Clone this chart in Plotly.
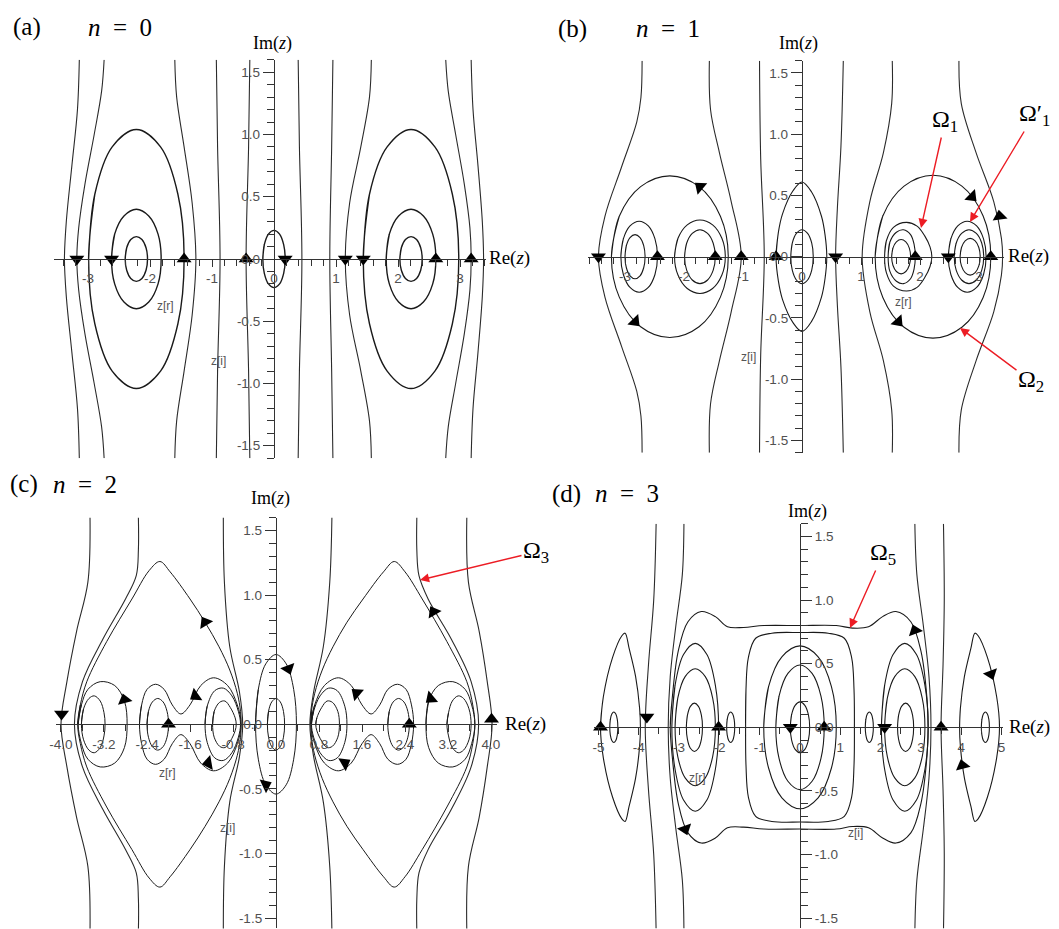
import plotly.graph_objects as go

W, H = 1059, 929

# ---------------- panel (a): n = 0 ----------------
# open trajectories: upper half, from the top edge down to the real axis
A_OPEN = [
    [(-3.14, 1.6), (-3.17, 1.2), (-3.26, 0.75), (-3.35, 0.3), (-3.38, 0)],
    [(-2.74, 1.6), (-2.78, 1.35), (-2.9, 1.0), (-3.05, 0.6), (-3.15, 0.25), (-3.18, 0)],
    [(-1.6, 1.6), (-1.57, 1.3), (-1.45, 0.9), (-1.32, 0.45), (-1.26, 0)],
    [(-0.93, 1.6), (-0.91, 0.9), (-0.87, 0)],
    [(-0.39, 1.6), (-0.41, 0.9), (-0.45, 0)],
    [(0.39, 1.6), (0.41, 0.9), (0.45, 0)],
    [(0.95, 1.6), (0.93, 0.9), (0.9, 0)],
    [(1.57, 1.6), (1.54, 1.3), (1.4, 0.9), (1.22, 0.45), (1.15, 0)],
    [(2.77, 1.6), (2.81, 1.35), (2.93, 1.0), (3.07, 0.6), (3.16, 0.25), (3.18, 0)],
    [(3.18, 1.6), (3.21, 1.2), (3.29, 0.75), (3.36, 0.3), (3.38, 0)],
]
# closed orbits: upper arc from the left crossing to the right crossing
A_LOOPS = [
    [(-2.99, 0), (-2.89, 0.52), (-2.61, 0.90), (-2.22, 1.04), (-1.83, 0.90), (-1.55, 0.52), (-1.45, 0)],
    [(-2.62, 0), (-2.57, 0.2), (-2.42, 0.346), (-2.22, 0.40), (-2.02, 0.346), (-1.87, 0.2), (-1.82, 0)],
    [(-2.40, 0), (-2.376, 0.09), (-2.31, 0.156), (-2.22, 0.18), (-2.13, 0.156), (-2.064, 0.09), (-2.04, 0)],
    [(-0.18, 0), (-0.156, 0.115), (-0.09, 0.2), (0, 0.23), (0.09, 0.2), (0.156, 0.115), (0.18, 0)],
    [(1.44, 0), (1.54, 0.52), (1.825, 0.90), (2.21, 1.04), (2.595, 0.90), (2.877, 0.52), (2.98, 0)],
    [(1.81, 0), (1.86, 0.2), (2.01, 0.346), (2.21, 0.40), (2.41, 0.346), (2.56, 0.2), (2.61, 0)],
    [(2.03, 0), (2.054, 0.09), (2.12, 0.156), (2.21, 0.18), (2.30, 0.156), (2.366, 0.09), (2.39, 0)],
]
A_UP = [(-1.45, 0), (-0.45, 0), (2.61, 0), (3.18, 0)]
A_DOWN = [(-3.18, 0), (-2.62, 0), (0.18, 0), (1.15, 0), (1.44, 0)]
A_HEADS = []

# ---------------- panel (b): n = 1 ----------------
B_OPEN = [
    [(-2.71, 1.6), (-2.73, 1.3), (-2.8, 1.1), (-3.06, 0.73), (-3.34, 0.33), (-3.45, 0)],
    [(-1.57, 1.6), (-1.55, 1.2), (-1.4, 0.85), (-1.2, 0.45), (-1.03, 0)],
    [(-0.72, 1.6), (-0.7, 0.8), (-0.64, 0)],
    [(0.7, 1.6), (0.66, 0.9), (0.6, 0.4), (0.57, 0)],
    [(1.53, 1.6), (1.52, 1.25), (1.38, 0.85), (1.15, 0.45), (1.02, 0)],
    [(2.66, 1.6), (2.7, 1.25), (2.95, 0.85), (3.25, 0.45), (3.38, 0.15), (3.4, 0)],
]
B_LOOPS = [
    [(-3.23, 0), (-3.097, 0.33), (-2.735, 0.572), (-2.24, 0.66), (-1.745, 0.572), (-1.383, 0.33), (-1.25, 0)],
    [(1.24, 0), (1.37, 0.333), (1.73, 0.576), (2.22, 0.665), (2.71, 0.576), (3.07, 0.333), (3.2, 0)],
    [(-3.07, 0), (-3.028, 0.145), (-2.915, 0.251), (-2.76, 0.29), (-2.605, 0.251), (-2.492, 0.145), (-2.45, 0)],
    [(-3.0, 0), (-2.977, 0.09), (-2.915, 0.156), (-2.83, 0.18), (-2.745, 0.156), (-2.683, 0.09), (-2.66, 0)],
    [(-2.16, 0), (-2.102, 0.15), (-1.945, 0.26), (-1.73, 0.30), (-1.515, 0.26), (-1.358, 0.15), (-1.30, 0)],
    [(-1.99, 0), (-1.955, 0.11), (-1.86, 0.19), (-1.73, 0.22), (-1.60, 0.19), (-1.505, 0.11), (-1.47, 0)],
    [(-0.44, 0), (-0.40, 0.2), (-0.33, 0.35), (-0.15, 0.54), (0, 0.61), (0.16, 0.53), (0.33, 0.33), (0.39, 0.18), (0.42, 0)],
    [(-0.19, 0), (-0.165, 0.11), (-0.095, 0.19), (0, 0.22), (0.095, 0.19), (0.165, 0.11), (0.19, 0)],
    [(1.40, 0), (1.43, 0.13), (1.55, 0.24), (1.77, 0.28), (1.95, 0.25), (2.08, 0.17), (2.17, 0.08), (2.2, 0)],
    [(1.46, 0), (1.49, 0.12), (1.6, 0.2), (1.72, 0.22), (1.84, 0.18), (1.9, 0.1), (1.92, 0)],
    [(1.52, 0), (1.541, 0.07), (1.6, 0.121), (1.68, 0.14), (1.76, 0.121), (1.819, 0.07), (1.84, 0)],
    [(2.48, 0), (2.523, 0.145), (2.64, 0.251), (2.8, 0.29), (2.96, 0.251), (3.077, 0.145), (3.12, 0)],
    [(2.58, 0), (2.613, 0.11), (2.705, 0.19), (2.83, 0.22), (2.955, 0.19), (3.047, 0.11), (3.08, 0)],
    [(2.68, 0), (2.703, 0.075), (2.765, 0.13), (2.85, 0.15), (2.935, 0.13), (2.997, 0.075), (3.02, 0)],
]
B_UP = [(-2.45, 0), (-1.47, 0), (-1.03, 0), (-0.44, 0), (1.92, 0), (3.2, 0)]
B_DOWN = [(-3.45, 0), (0.57, 0), (2.48, 0)]
# arrowheads along the orbits: (x, y, heading in degrees clockwise from up)
B_HEADS = [(3.35, 0.33, -8), (-1.73, 0.57, -50), (-2.83, -0.53, 136), (2.88, 0.49, 135), (1.63, -0.53, 137)]

# ---------------- panel (c): n = 2 ----------------
C_OPEN = [
    [(-3.46, 1.6), (-3.5, 1.1), (-3.71, 0.72), (-3.89, 0.33), (-4.0, 0)],
    [(-2.56, 1.6), (-2.56, 1.35), (-2.6, 1.15), (-2.8, 0.97), (-3.22, 0.66), (-3.6, 0.33), (-3.75, 0)],
    [(-0.98, 1.6), (-0.96, 1.1), (-0.86, 0.6), (-0.68, 0.25), (-0.62, 0)],
    [(1.04, 1.6), (1.0, 1.1), (0.88, 0.6), (0.7, 0.25), (0.63, 0)],
    [(2.62, 1.6), (2.62, 1.35), (2.66, 1.15), (2.83, 0.97), (3.26, 0.66), (3.63, 0.33), (3.77, 0)],
    [(3.55, 1.6), (3.58, 1.1), (3.78, 0.72), (3.93, 0.33), (4.02, 0)],
]
C_LOOPS = [
    [(-3.69, 0), (-3.64, 0.15), (-3.52, 0.33), (-3.15, 0.64), (-2.68, 0.97), (-2.36, 1.19), (-2.16, 1.26),
     (-1.97, 1.18), (-1.6, 0.97), (-1.32, 0.79), (-1.06, 0.6), (-0.86, 0.42), (-0.72, 0.24), (-0.66, 0.1), (-0.65, 0)],
    [(0.65, 0), (0.66, 0.1), (0.72, 0.24), (0.86, 0.42), (1.06, 0.6), (1.32, 0.79), (1.62, 0.97), (2.0, 1.18),
     (2.2, 1.26), (2.4, 1.18), (2.72, 0.97), (3.18, 0.64), (3.55, 0.33), (3.66, 0.15), (3.7, 0)],
    [(-3.68, 0), (-3.62, 0.15), (-3.5, 0.27), (-3.27, 0.33), (-3.0, 0.3), (-2.82, 0.18), (-2.77, 0)],
    [(-3.62, 0), (-3.58, 0.12), (-3.48, 0.2), (-3.38, 0.22), (-3.27, 0.18), (-3.2, 0.09), (-3.18, 0)],
    [(-2.54, 0), (-2.5, 0.15), (-2.4, 0.27), (-2.24, 0.31), (-2.08, 0.27), (-1.93, 0.15), (-1.77, 0.08),
     (-1.6, 0.15), (-1.4, 0.3), (-1.16, 0.36), (-0.9, 0.3), (-0.72, 0.15), (-0.65, 0)],
    [(-2.4, 0), (-2.373, 0.1), (-2.3, 0.173), (-2.2, 0.2), (-2.1, 0.173), (-2.027, 0.1), (-2.0, 0)],
    [(-1.32, 0), (-1.28, 0.14), (-1.14, 0.26), (-0.98, 0.28), (-0.82, 0.22), (-0.7, 0.1), (-0.66, 0)],
    [(-1.18, 0), (-1.15, 0.1), (-1.05, 0.17), (-0.95, 0.18), (-0.85, 0.13), (-0.76, 0.05), (-0.74, 0)],
    [(-0.38, 0), (-0.329, 0.27), (-0.19, 0.468), (0, 0.54), (0.19, 0.468), (0.329, 0.27), (0.38, 0)],
    [(-0.16, 0), (-0.139, 0.1), (-0.08, 0.173), (0, 0.2), (0.08, 0.173), (0.139, 0.1), (0.16, 0)],
    [(2.79, 0), (2.84, 0.18), (3.02, 0.3), (3.29, 0.33), (3.52, 0.27), (3.64, 0.15), (3.7, 0)],
    [(3.18, 0), (3.21, 0.09), (3.28, 0.18), (3.39, 0.22), (3.49, 0.2), (3.59, 0.12), (3.63, 0)],
    [(0.65, 0), (0.72, 0.15), (0.9, 0.3), (1.16, 0.36), (1.4, 0.3), (1.6, 0.15), (1.77, 0.08),
     (1.93, 0.15), (2.08, 0.27), (2.26, 0.31), (2.42, 0.27), (2.52, 0.15), (2.56, 0)],
    [(2.08, 0), (2.107, 0.1), (2.18, 0.173), (2.28, 0.2), (2.38, 0.173), (2.453, 0.1), (2.48, 0)],
    [(0.66, 0), (0.7, 0.1), (0.82, 0.22), (0.98, 0.28), (1.14, 0.26), (1.28, 0.14), (1.32, 0)],
    [(0.74, 0), (0.76, 0.05), (0.85, 0.13), (0.95, 0.18), (1.05, 0.17), (1.15, 0.1), (1.18, 0)],
]
C_UP = [(-2.0, 0), (2.48, 0), (4.01, 0.04)]
C_DOWN = [(-3.99, 0.08)]
C_HEADS = [(-1.32, 0.79, -31), (-2.82, 0.19, -15), (-1.5, 0.22, -125), (-1.26, -0.3, -100),
           (0.23, 0.43, 160), (-0.19, -0.47, 65), (2.93, 0.87, -30), (2.88, 0.2, -130),
           (1.5, 0.24, -50), (1.28, -0.3, 60)]

# ---------------- panel (d): n = 3 ----------------
D_OPEN = [
    [(-3.57, 1.6), (-3.63, 1.0), (-3.76, 0.49), (-3.84, 0)],
    [(-2.88, 1.6), (-2.92, 1.2), (-3.08, 0.8), (-3.22, 0.4), (-3.27, 0)],
    [(2.85, 1.6), (2.9, 1.2), (3.06, 0.8), (3.2, 0.4), (3.25, 0)],
    [(3.56, 1.6), (3.58, 1.0), (3.55, 0.5), (3.5, 0)],
]
D_LOOPS = [
    [(-4.95, 0), (-4.88, 0.24), (-4.65, 0.55), (-4.42, 0.72), (-4.34, 0.74), (-4.24, 0.62), (-4.08, 0.4), (-3.98, 0.15), (-3.96, 0)],
    [(3.96, 0), (3.98, 0.15), (4.08, 0.4), (4.24, 0.62), (4.34, 0.74), (4.42, 0.72), (4.65, 0.55), (4.88, 0.24), (4.95, 0)],
    [(-4.72, 0), (-4.707, 0.06), (-4.67, 0.104), (-4.62, 0.12), (-4.57, 0.104), (-4.533, 0.06), (-4.52, 0)],
    [(4.5, 0), (4.513, 0.06), (4.55, 0.104), (4.6, 0.12), (4.65, 0.104), (4.687, 0.06), (4.7, 0)],
    [(-1.82, 0), (-1.807, 0.06), (-1.77, 0.104), (-1.72, 0.12), (-1.67, 0.104), (-1.633, 0.06), (-1.62, 0)],
    [(1.62, 0), (1.633, 0.06), (1.67, 0.104), (1.72, 0.12), (1.77, 0.104), (1.807, 0.06), (1.82, 0)],
    [(-2.82, 0), (-2.793, 0.095), (-2.72, 0.165), (-2.62, 0.19), (-2.52, 0.165), (-2.447, 0.095), (-2.42, 0)],
    [(-3.1, 0), (-3.033, 0.23), (-2.85, 0.398), (-2.6, 0.46), (-2.35, 0.398), (-2.167, 0.23), (-2.1, 0)],
    [(-3.18, 0), (-3.1, 0.33), (-2.89, 0.572), (-2.6, 0.66), (-2.31, 0.572), (-2.1, 0.33), (-2.02, 0)],
    [(2.42, 0), (2.447, 0.095), (2.52, 0.165), (2.62, 0.19), (2.72, 0.165), (2.793, 0.095), (2.82, 0)],
    [(2.1, 0), (2.167, 0.23), (2.35, 0.398), (2.6, 0.46), (2.85, 0.398), (3.033, 0.23), (3.1, 0)],
    [(2.02, 0), (2.1, 0.33), (2.31, 0.572), (2.6, 0.66), (2.89, 0.572), (3.1, 0.33), (3.18, 0)],
    [(-0.24, 0), (-0.208, 0.1), (-0.12, 0.173), (0, 0.2), (0.12, 0.173), (0.208, 0.1), (0.24, 0)],
    [(-0.6, 0), (-0.52, 0.245), (-0.3, 0.424), (0, 0.49), (0.3, 0.424), (0.52, 0.245), (0.6, 0)],
    [(-0.9, 0), (-0.78, 0.32), (-0.45, 0.554), (0, 0.64), (0.45, 0.554), (0.78, 0.32), (0.9, 0)],
    [(-1.35, 0), (-1.34, 0.3), (-1.28, 0.55), (-1.1, 0.7), (-0.7, 0.74), (0, 0.745), (0.7, 0.74),
     (1.1, 0.7), (1.28, 0.55), (1.34, 0.3), (1.35, 0)],
    [(-3.22, 0), (-3.17, 0.23), (-3.02, 0.6), (-2.78, 0.83), (-2.45, 0.91), (-2.1, 0.87), (-1.8, 0.79),
     (-1.4, 0.785), (-0.9, 0.8), (0, 0.8), (0.9, 0.8), (1.3, 0.78), (1.7, 0.79), (2.05, 0.87),
     (2.38, 0.91), (2.75, 0.83), (3.0, 0.6), (3.15, 0.23), (3.18, 0)],
]
D_UP = [(-4.95, 0), (-2.02, 0), (0.6, 0), (3.5, 0)]
D_DOWN = [(-3.8, 0.08), (-0.24, 0), (2.1, 0)]
D_HEADS = [(2.85, 0.76, -20), (-2.85, -0.8, 160), (4.74, 0.42, 160), (4.03, -0.3, -15)]

# pixel frame of each panel: origin (px), pixels per unit, axis ranges
PANELS = [
    dict(x0=274, sx=62, y0=259, sy=124.5, xr=[-3.55, 3.42], yr=[-1.6, 1.6],
         xt=[-3, -2, -1, 0, 1, 2, 3], xfmt="{:.0f}", xminor=0.2, yside="left",
         opn=A_OPEN, loops=A_LOOPS, up=A_UP, down=A_DOWN, heads=A_HEADS, loopw=1.4),
    dict(x0=802, sx=59, y0=256.7, sy=122.5, xr=[-3.62, 3.42], yr=[-1.6, 1.6],
         xt=[-3, -2, -1, 0, 1, 2, 3], xfmt="{:.0f}", xminor=0.2, yside="left",
         opn=B_OPEN, loops=B_LOOPS, up=B_UP, down=B_DOWN, heads=B_HEADS, loopw=1.1),
    dict(x0=276, sx=53.75, y0=724.3, sy=129.2, xr=[-4.1, 4.12], yr=[-1.58, 1.6],
         xt=[-4.0, -3.2, -2.4, -1.6, -0.8, 0.0, 0.8, 1.6, 2.4, 3.2, 4.0], xfmt="{:.1f}", xminor=0.4, yside="left",
         opn=C_OPEN, loops=C_LOOPS, up=C_UP, down=C_DOWN, heads=C_HEADS, loopw=1.0),
    dict(x0=800, sx=40.3, y0=727.3, sy=127.2, xr=[-5.1, 5.03], yr=[-1.58, 1.6],
         xt=[-5, -4, -3, -2, -1, 0, 1, 2, 3, 4, 5], xfmt="{:.0f}", xminor=0.5, yside="right",
         opn=D_OPEN, loops=D_LOOPS, up=D_UP, down=D_DOWN, heads=D_HEADS, loopw=1.1),
]


def open_path(half):
    # the lower half of an open trajectory is the mirror image of its upper half
    return list(half) + [(x, -y) for x, y in reversed(half[:-1])]


def loop_path(half):
    # close the orbit with the mirrored lower arc, overlapping one segment so the join stays smooth
    lower = [(x, -y) for x, y in reversed(half[1:-1])]
    return list(half) + lower + [half[0], half[1]]


def stack(paths):
    xs, ys = [], []
    for p in paths:
        xs += [q[0] for q in p] + [None]
        ys += [q[1] for q in p] + [None]
    return xs, ys


fig = go.Figure()
TICKGREY = "#505050"
TICKFONT = dict(family="Liberation Sans, Arial, sans-serif", size=13.5, color=TICKGREY)
AXIS = "#333333"

for i, P in enumerate(PANELS, start=1):
    xa = "x" if i == 1 else f"x{i}"
    ya = "y" if i == 1 else f"y{i}"
    xd = [(P["x0"] + P["xr"][0] * P["sx"]) / W, (P["x0"] + P["xr"][1] * P["sx"]) / W]
    yd = [1 - (P["y0"] - P["yr"][0] * P["sy"]) / H, 1 - (P["y0"] - P["yr"][1] * P["sy"]) / H]
    common = dict(showgrid=False, zeroline=False, showline=True, linecolor=AXIS, linewidth=1.3,
                  ticks="outside", tickcolor=AXIS, tickwidth=1.2, tickfont=TICKFONT,
                  anchor="free", fixedrange=True)
    fig.layout[xa.replace("x", "xaxis")] = dict(
        common, domain=xd, range=P["xr"], position=1 - P["y0"] / H, ticklen=7,
        tickvals=P["xt"], ticktext=[P["xfmt"].format(v) for v in P["xt"]],
        minor=dict(tickmode="linear", tick0=0, dtick=P["xminor"], ticks="outside", ticklen=6,
                   tickcolor=AXIS, tickwidth=1.1))
    yt = [-1.5, -1.0, -0.5, 0.0, 0.5, 1.0, 1.5]
    fig.layout[ya.replace("y", "yaxis")] = dict(
        common, domain=yd, range=P["yr"], position=P["x0"] / W, side=P["yside"], ticklen=11,
        tickvals=yt, ticktext=["{:.1f}".format(v) for v in yt],
        minor=dict(tickmode="linear", tick0=0, dtick=0.1, ticks="outside", ticklen=7,
                   tickcolor=AXIS, tickwidth=1.1))

    ox, oy = stack([open_path(h) for h in P["opn"]])
    fig.add_trace(go.Scatter(x=ox, y=oy, xaxis=xa, yaxis=ya, mode="lines",
                             line=dict(color="#2b2b2b", width=1.1, shape="spline", smoothing=1.0),
                             hoverinfo="skip", showlegend=False))
    lx, ly = stack([loop_path(h) for h in P["loops"]])
    fig.add_trace(go.Scatter(x=lx, y=ly, xaxis=xa, yaxis=ya, mode="lines",
                             line=dict(color="#1a1a1a", width=P["loopw"], shape="spline", smoothing=1.0),
                             hoverinfo="skip", showlegend=False))
    for pts, sym in ((P["up"], "triangle-up"), (P["down"], "triangle-down")):
        fig.add_trace(go.Scatter(x=[p[0] for p in pts], y=[p[1] for p in pts], xaxis=xa, yaxis=ya,
                                 mode="markers", cliponaxis=False,
                                 marker=dict(symbol=sym, size=13, color="black", line=dict(width=0)),
                                 hoverinfo="skip", showlegend=False))
    if P["heads"]:
        fig.add_trace(go.Scatter(x=[h[0] for h in P["heads"]], y=[h[1] for h in P["heads"]],
                                 xaxis=xa, yaxis=ya, mode="markers", cliponaxis=False,
                                 marker=dict(symbol="triangle-up", size=13, color="black",
                                             angle=[h[2] for h in P["heads"]], line=dict(width=0)),
                                 hoverinfo="skip", showlegend=False))


def px(x, y):
    return x / W, 1 - y / H


ann = []
SERIF = "Liberation Serif, Times New Roman, serif"


def text(x, y, s, size, family=SERIF, color="black", xanchor="center"):
    X, Y = px(x, y)
    ann.append(dict(x=X, y=Y, xref="paper", yref="paper", text=s, showarrow=False,
                    font=dict(family=family, size=size, color=color), xanchor=xanchor, yanchor="middle"))


# panel titles
SP = "&nbsp;"
for (lx, nx, y, lab, n) in [(27, 120, 27, "(a)", 0), (572, 668, 29, "(b)", 1),
                            (24, 85, 484, "(c)", 2), (566, 627, 494, "(d)", 3)]:
    text(lx, y, lab, 25)
    text(nx, y, f"<i>n</i>{SP}{SP}={SP}{SP}{n}", 25)

# axis names
for (x, y) in [(272, 43), (798, 43), (270, 498), (807, 512)]:
    text(x, y, "Im(<i>z</i>)", 18)
for (x, y) in [(487, 258), (1006, 256), (503, 724), (1007, 727)]:
    text(x, y, "Re(<i>z</i>)", 19, xanchor="left")

SMALL = "Liberation Sans, Arial, sans-serif"
for (x, y, s) in [(165, 306, "z[r]"), (218, 361, "z[i]"), (903, 302, "z[r]"), (748, 357, "z[i]"),
                  (167, 773, "z[r]"), (227, 828, "z[i]"), (697, 778, "z[r]"), (855, 833, "z[i]")]:
    text(x, y, s, 12, family=SMALL, color="#555555")

# red pointers from each label to its orbit: tip (px), label centre (px)
RED = "#ec1c24"
for (tx, ty, lx, ly, s) in [(921, 228, 945, 121, "Ω<sub>1</sub>"),
                            (970, 222, 1034, 115, "Ω′<sub>1</sub>"),
                            (960, 328, 1031, 381, "Ω<sub>2</sub>"),
                            (420, 580, 536, 552, "Ω<sub>3</sub>"),
                            (850, 628, 883, 554, "Ω<sub>5</sub>")]:
    X, Y = px(tx, ty)
    ann.append(dict(x=X, y=Y, xref="paper", yref="paper", ax=lx - tx, ay=ly - ty, axref="pixel", ayref="pixel",
                    text=s, showarrow=True, font=dict(family=SERIF, size=24, color="black"),
                    arrowhead=2, arrowsize=1.3, arrowwidth=1.4, arrowcolor=RED, standoff=0, borderpad=1))

fig.update_layout(template="none", width=W, height=H, margin=dict(l=0, r=0, t=0, b=0),
                  paper_bgcolor="white", plot_bgcolor="white", annotations=ann, showlegend=False,
                  font=dict(family=SMALL, color=TICKGREY))
fig.write_html("out.html")
